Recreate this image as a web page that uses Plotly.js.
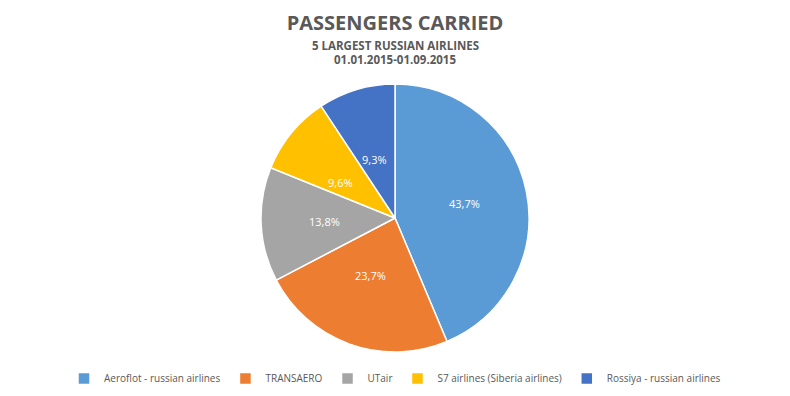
<!DOCTYPE html>
<html><head><meta charset="utf-8">
<script src="https://cdn.plot.ly/plotly-3.0.1.min.js"></script>
<style>body{margin:0;background:#fff}#c{width:790px;height:396px}</style>
</head><body><div id="c"></div>
<script>
const airlines = ["Aeroflot - russian airlines", "TRANSAERO", "UTair", "S7 airlines (Siberia airlines)", "Rossiya - russian airlines"];
const shares = [43.7, 23.7, 13.8, 9.6, 9.3];
const shareLabels = ["43,7%", "23,7%", "13,8%", "9,6%", "9,3%"];
const colors = ["#5B9BD5", "#ED7D31", "#A5A5A5", "#FFC000", "#4472C4"];

const W = 790, H = 396, M = {l: 0, r: 0, t: 84, b: 44};
const plotW = W - M.l - M.r, plotH = H - M.t - M.b;
const R = Math.min(plotW, plotH) / 2;
const total = shares.reduce((a, b) => a + b, 0);

// data labels placed at the middle angle of each slice (Excel style)
const annotations = [];
let cum = 0;
shares.forEach((v, i) => {
  const mid = (cum + v / 2) / total * 2 * Math.PI;
  cum += v;
  const rr = 0.53 * R;
  annotations.push({
    xref: "paper", yref: "paper",
    x: 0.5 + rr * Math.sin(mid) / plotW,
    y: 0.5 + rr * Math.cos(mid) / plotH,
    text: shareLabels[i], showarrow: false,
    font: {family: "Open Sans, sans-serif", size: 11, color: "#ffffff"}
  });
});
// pixel row (from top) -> paper y
const py = px => (H - M.b - px) / plotH;
annotations.push({
  xref: "paper", yref: "paper", x: 0.5, y: py(46), yanchor: "middle",
  text: "<b>5 LARGEST RUSSIAN AIRLINES</b>", showarrow: false,
  font: {family: "Open Sans, sans-serif", size: 11.5, color: "#595959"}
});
annotations.push({
  xref: "paper", yref: "paper", x: 0.5, y: py(60), yanchor: "middle",
  text: "<b>01.01.2015-01.09.2015</b>", showarrow: false,
  font: {family: "Open Sans, sans-serif", size: 11.5, color: "#595959"}
});

Plotly.newPlot("c", [{
  type: "pie",
  labels: airlines,
  values: shares,
  textinfo: "none",
  sort: false,
  direction: "clockwise",
  rotation: 0,
  marker: {colors: colors, line: {color: "#ffffff", width: 1.5}},
  hoverinfo: "none"
}], {
  width: W, height: H,
  margin: Object.assign({autoexpand: false}, M),
  paper_bgcolor: "#fff",
  showlegend: true,
  title: {
    text: "<b>PASSENGERS CARRIED</b>",
    x: 0.5, xanchor: "center", yref: "container", y: 1 - 23 / H, yanchor: "middle",
    font: {family: "Open Sans, sans-serif", size: 20, color: "#595959"}
  },
  annotations: annotations,
  legend: {
    orientation: "h", x: 0.5, xanchor: "center", y: -0.045, yanchor: "top",
    font: {family: "Open Sans, sans-serif", size: 10, color: "#595959"},
    itemwidth: 30, traceorder: "normal"
  }
}, {staticPlot: true});
</script>
</body></html>
